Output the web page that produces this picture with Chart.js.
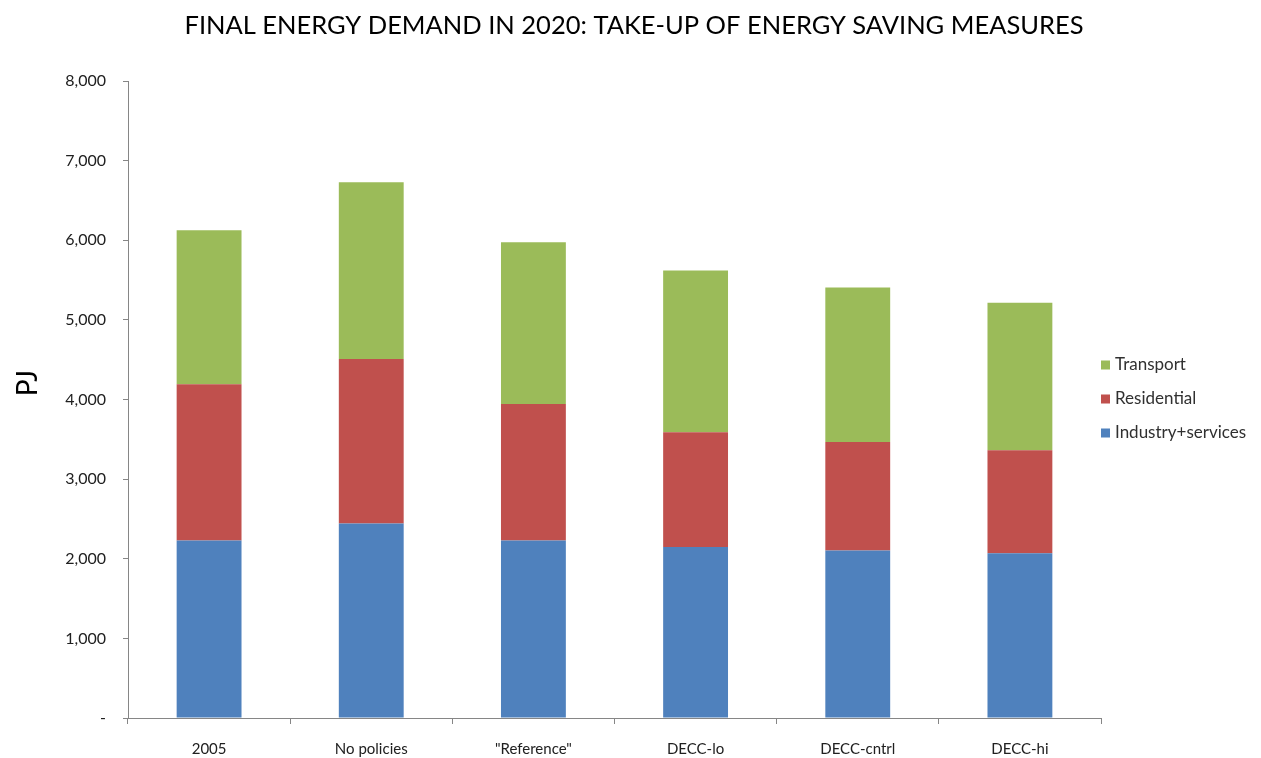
<!DOCTYPE html>
<html>
<head>
<meta charset="utf-8">
<script src="https://cdn.jsdelivr.net/npm/chart.js@4"></script>
<style>
html,body{margin:0;padding:0;background:#fff;}
#wrap{width:1261px;height:758px;position:relative;}
</style>
</head>
<body>
<div id="wrap"><canvas id="c" width="1261" height="758"></canvas></div>
<script>
const categories = ['2005', 'No policies', '"Reference"', 'DECC-lo', 'DECC-cntrl', 'DECC-hi'];
const seriesNames = ['Industry+services', 'Residential', 'Transport'];
const industry = [2228, 2442, 2228, 2146, 2103, 2070];
const residential = [1963, 2066, 1716, 1442, 1364, 1293];
const transport = [1936, 2221, 2032, 2033, 1941, 1852];
const yTicks = [0, 1000, 2000, 3000, 4000, 5000, 6000, 7000, 8000];
const titleText = 'FINAL ENERGY DEMAND IN 2020: TAKE-UP OF ENERGY SAVING MEASURES';
const yTitle = 'PJ';
const colors = ['#4F81BD', '#C0504D', '#9BBB59'];
const FONT = 'Lato, "Open Sans", sans-serif';

const decorPlugin = {
  id: 'decor',
  afterDraw(chart) {
    const ctx = chart.ctx;
    const ds = chart.data.datasets;
    ctx.save();
    // title
    ctx.font = '25.5px ' + FONT;
    ctx.fillStyle = '#000';
    ctx.textAlign = 'center';
    ctx.textBaseline = 'middle';
    ctx.fillText(titleText, 634, 26);
    // y axis title
    ctx.save();
    ctx.translate(28, 383);
    ctx.rotate(-Math.PI / 2);
    ctx.font = '28px ' + FONT;
    ctx.fillText(yTitle, 0, 0);
    ctx.restore();
    // legend
    ctx.textAlign = 'left';
    ctx.font = '17px ' + FONT;
    const ys = [365, 399, 433];
    for (let i = ds.length - 1, k = 0; i >= 0; i--, k++) {
      ctx.fillStyle = ds[i].backgroundColor;
      ctx.fillRect(1101, ys[k] - 4.5, 9, 9);
      ctx.fillStyle = '#303030';
      ctx.fillText(ds[i].label, 1115, ys[k]);
    }
    ctx.restore();
  }
};

new Chart(document.getElementById('c'), {
  type: 'bar',
  data: {
    labels: categories,
    datasets: [
      { label: seriesNames[0], data: industry, backgroundColor: colors[0] },
      { label: seriesNames[1], data: residential, backgroundColor: colors[1] },
      { label: seriesNames[2], data: transport, backgroundColor: colors[2] }
    ]
  },
  options: {
    responsive: false,
    animation: false,
    layout: { padding: { left: 0, right: 160, top: 81, bottom: 0 } },
    datasets: { bar: { categoryPercentage: 1.0, barPercentage: 0.4 } },
    plugins: {
      legend: { display: false },
      tooltip: { enabled: false },
      title: { display: false }
    },
    scales: {
      x: {
        stacked: true,
        grid: { drawOnChartArea: false, offset: true, tickLength: 6, color: '#868686', tickColor: '#868686' },
        border: { color: '#868686' },
        ticks: { color: '#202020', font: { family: FONT, size: 15 }, padding: 16, maxRotation: 0 },
        afterFit(s) { s.height = 40; }
      },
      y: {
        stacked: true,
        min: 0,
        max: 8000,
        afterBuildTicks(s) { s.ticks = yTicks.map(v => ({ value: v })); },
        grid: { drawOnChartArea: false, tickLength: 5, color: '#868686', tickColor: '#868686' },
        border: { color: '#868686' },
        ticks: {
          color: '#202020',
          font: { family: FONT, size: 16 },
          padding: 17,
          callback: v => v === 0 ? '-' : v.toLocaleString('en-US')
        },
        title: { display: false },
        afterFit(s) { s.width = 128; }
      }
    }
  },
  plugins: [decorPlugin]
});
</script>
</body>
</html>
